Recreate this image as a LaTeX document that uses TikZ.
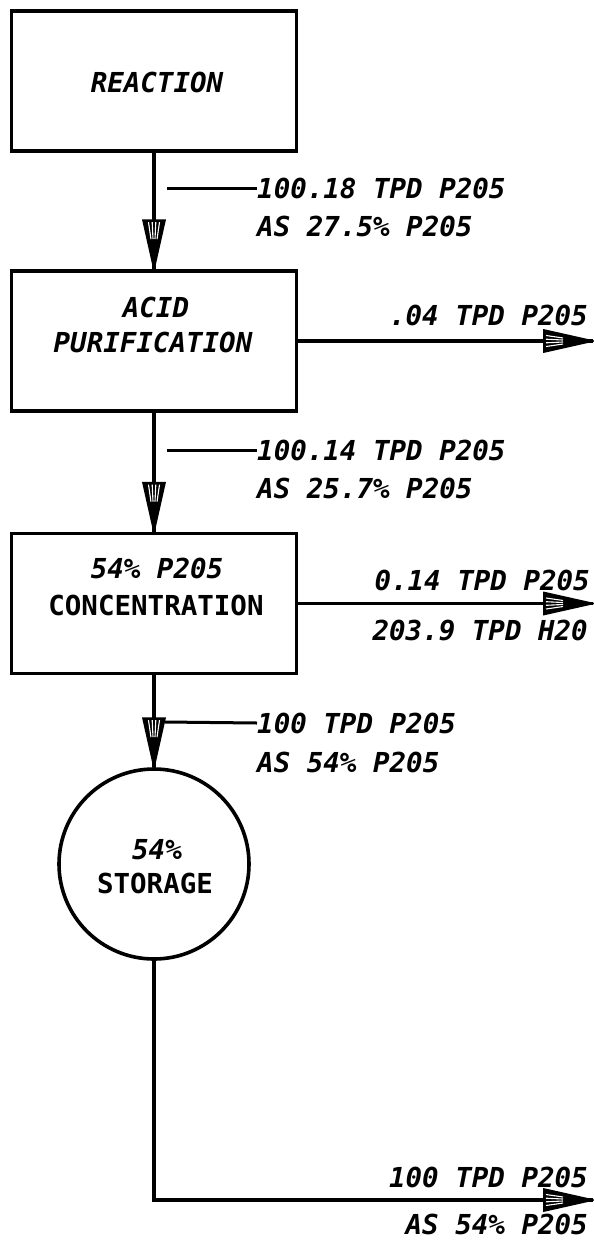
\documentclass[tikz,border=0pt]{standalone}
\usepackage{fontspec}
\newfontfamily\plotfont{DejaVu Sans Mono}
\tikzset{
  boxnode/.style={draw, line width=3.6pt, minimum width=285pt, minimum height=140pt, inner sep=0pt},
  tanknode/.style={draw, circle, line width=3.6pt, minimum size=190pt, inner sep=0pt},
  lbl/.style={font=\plotfont\bfseries\itshape\fontsize{27.5}{38}\selectfont, inner sep=0pt},
  lblup/.style={font=\plotfont\bfseries\fontsize{27.5}{38}\selectfont, inner sep=0pt},
  flow/.style={line width=3.4pt},
  leader/.style={line width=3pt},
}
\newcommand\fanhead[2]{%
  \begin{scope}[shift={(#1)},rotate=#2]
    \filldraw[line width=1.6pt, line join=miter] (0,0) -- (-49,11) -- (-49,-11) -- cycle;
    \foreach \t in {-5.5,-1.8,1.8,5.5} \draw[white, line width=1.1pt] (-47,\t) -- (-30,0.55*\t);
  \end{scope}}
\begin{document}
\begin{tikzpicture}[x=1pt,y=-1pt]
  \useasboundingbox (0,0) rectangle (594,1240);
  \fill[white] (0,0) rectangle (594,1240);

  % process boxes
  \node[boxnode] (b1) at (154,81) {};
  \node[boxnode] (b2) at (154,341) {};
  \node[boxnode] (b3) at (154,603.5) {};
  \node[tanknode] (st) at (154,864) {};

  % box labels
  \node[lbl] (n1) at (157,82) {REACTION};
  \node[lbl] (n2a) at (156,307) {ACID};
  \node[lbl] (n2b) at (153,342) {PURIFICATION};
  \node[lbl] (n3a) at (157,568) {54\% P205};
  \node[lblup] (n3b) at (156,605) {CONCENTRATION};
  \node[lbl] (n4a) at (157,850) {54\%};
  \node[lblup] (n4b) at (155,883) {STORAGE};

  % main vertical flows
  \draw[flow] (b1.south) -- (b2.north);
  \fanhead{b2.north}{-90}
  \draw[flow] (b2.south) -- (b3.north);
  \fanhead{b3.north}{-90}
  \draw[flow] (b3.south) -- (st.north);
  \fanhead{st.north}{-90}

  % flow labels on vertical streams
  \node[lbl, anchor=west] (t1a) at (257,188) {100.18 TPD P205};
  \node[lbl, anchor=west] (t1b) at (257,226) {AS 27.5\% P205};
  \coordinate (l1) at (167,188);
  \draw[leader] (l1) -- (t1a.west);

  \node[lbl, anchor=west] (t2a) at (257,450) {100.14 TPD P205};
  \node[lbl, anchor=west] (t2b) at (257,488) {AS 25.7\% P205};
  \coordinate (l2) at (167,450);
  \draw[leader] (l2) -- (t2a.west);

  \node[lbl, anchor=west] (t3a) at (257,723) {100 TPD P205};
  \node[lbl, anchor=west] (t3b) at (257,762) {AS 54\% P205};
  \coordinate (l3) at (165,722);
  \draw[leader] (l3) -- (t3a.west);

  % side streams
  \coordinate (e1) at (593,341);
  \draw[flow] (b2.east) -- (e1);
  \fanhead{e1}{0}
  \node[lbl, anchor=east] (r1) at (588,315) {.04 TPD P205};

  \coordinate (e2) at (593,603.5);
  \draw[flow] (b3.east) -- (e2);
  \fanhead{e2}{0}
  \node[lbl, anchor=east] (r2a) at (590,580) {0.14 TPD P205};
  \node[lbl, anchor=east] (r2b) at (588,630) {203.9 TPD H20};

  % product stream
  \coordinate (c1) at (154,1200);
  \coordinate (e3) at (593,1200);
  \draw[flow, line join=miter] (st.south) -- (c1) -- (e3);
  \fanhead{e3}{0}
  \node[lbl, anchor=east] (r3a) at (588,1177) {100 TPD P205};
  \node[lbl, anchor=east] (r3b) at (588,1224) {AS 54\% P205};
\end{tikzpicture}
\end{document}
